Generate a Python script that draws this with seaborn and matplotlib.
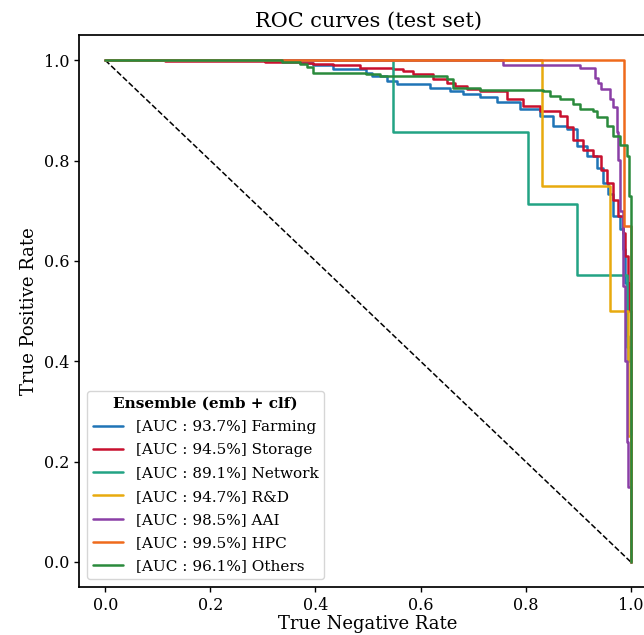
import matplotlib
matplotlib.use("Agg")
import matplotlib.pyplot as plt
import seaborn as sns

# ROC curves: x = true negative rate where each level starts,
# y = true positive rate held from that x to the next one (step "post")
farming_tnr = [0.0, 0.33, 0.37, 0.396, 0.434, 0.497, 0.507, 0.536, 0.555, 0.618, 0.656, 0.681,
               0.713, 0.745, 0.789, 0.827, 0.852, 0.878, 0.897, 0.916, 0.935, 0.947, 0.957,
               0.966, 0.979, 0.985, 0.989, 0.992, 0.995, 1.0]
farming_tpr = [1.0, 0.998, 0.995, 0.990, 0.983, 0.975, 0.969, 0.959, 0.952, 0.945, 0.939, 0.932,
               0.926, 0.916, 0.902, 0.889, 0.869, 0.862, 0.829, 0.809, 0.786, 0.756, 0.733,
               0.689, 0.663, 0.623, 0.556, 0.45, 0.40, 0.0]

storage_tnr = [0.0, 0.114, 0.304, 0.371, 0.396, 0.434, 0.485, 0.548, 0.567, 0.586, 0.624, 0.650,
               0.665, 0.688, 0.713, 0.764, 0.795, 0.827, 0.865, 0.878, 0.890, 0.909, 0.928,
               0.944, 0.954, 0.966, 0.976, 0.985, 0.990, 0.994, 0.996, 1.0]
storage_tpr = [1.0, 0.998, 0.996, 0.995, 0.992, 0.990, 0.985, 0.983, 0.979, 0.972, 0.963, 0.955,
               0.949, 0.942, 0.939, 0.922, 0.909, 0.899, 0.889, 0.866, 0.842, 0.822, 0.809,
               0.782, 0.756, 0.722, 0.689, 0.656, 0.609, 0.556, 0.50, 0.0]

network_tnr = [0.0, 0.548, 0.805, 0.897, 0.992, 1.0]
network_tpr = [1.0, 0.857, 0.714, 0.571, 0.429, 0.0]

rnd_tnr = [0.0, 0.831, 0.961, 0.995, 1.0]
rnd_tpr = [1.0, 0.75, 0.50, 0.25, 0.0]

aai_tnr = [0.0, 0.757, 0.903, 0.932, 0.938, 0.944, 0.960, 0.966, 0.973, 0.976, 0.980, 0.985,
           0.989, 0.992, 0.995, 1.0]
aai_tpr = [1.0, 0.990, 0.985, 0.965, 0.955, 0.942, 0.922, 0.906, 0.856, 0.802, 0.70, 0.55,
           0.40, 0.24, 0.15, 0.0]

hpc_tnr = [0.0, 0.987, 1.0]
hpc_tpr = [1.0, 0.669, 0.0]

others_tnr = [0.0, 0.336, 0.371, 0.383, 0.396, 0.497, 0.523, 0.650, 0.662, 0.713, 0.833, 0.846,
              0.865, 0.890, 0.903, 0.928, 0.935, 0.954, 0.966, 0.979, 0.992, 0.996, 1.0]
others_tpr = [1.0, 0.996, 0.993, 0.987, 0.975, 0.972, 0.969, 0.962, 0.945, 0.941, 0.939, 0.929,
              0.922, 0.912, 0.902, 0.899, 0.886, 0.869, 0.849, 0.832, 0.809, 0.73, 0.0]

classes = ["Farming", "Storage", "Network", "R&D", "AAI", "HPC", "Others"]
auc_pct = [93.7, 94.5, 89.1, 94.7, 98.5, 99.5, 96.1]
curves = [(farming_tnr, farming_tpr), (storage_tnr, storage_tpr), (network_tnr, network_tpr),
          (rnd_tnr, rnd_tpr), (aai_tnr, aai_tpr), (hpc_tnr, hpc_tpr), (others_tnr, others_tpr)]
colors = ["#1f74b6", "#c8102e", "#22a384", "#e8aa0e", "#8a3fa6", "#ef6a1c", "#2a8a3c"]

diag_x = [0.0, 1.0]
diag_y = [1.0, 0.0]

sns.set_theme(context="notebook", style="ticks",
              rc={"axes.edgecolor": "black", "axes.labelcolor": "black", "text.color": "black",
                  "xtick.color": "black", "ytick.color": "black",
                  "xtick.major.size": 3.5, "ytick.major.size": 3.5,
                  "xtick.major.width": 1.0, "ytick.major.width": 1.0,
                  "xtick.labelsize": 11.5, "ytick.labelsize": 11.5,
                  "axes.linewidth": 1.25})
plt.rcParams["font.family"] = ["DejaVu Serif"]

fig = plt.figure(figsize=(6.44, 6.35), dpi=100)
# right spine falls just outside the canvas, as in the cropped reference
ax = fig.add_axes([0.1227, 0.0756, 0.8975, 0.869])

sns.lineplot(x=diag_x, y=diag_y, color="black", linestyle="--", linewidth=1.1, ax=ax)
for name, auc, (tnr, tpr), col in zip(classes, auc_pct, curves, colors):
    sns.lineplot(x=tnr, y=tpr, drawstyle="steps-post", estimator=None, sort=False,
                 color=col, linewidth=1.8, label=f"[AUC : {auc}%] {name}", ax=ax)

ax.set_xlim(-0.05, 1.05)
ax.set_ylim(-0.05, 1.05)
ax.set_xlabel("True Negative Rate", fontsize=13, labelpad=1)
ax.set_ylabel("True Positive Rate", fontsize=13)
ax.set_title("ROC curves (test set)", fontsize=15)
ax.legend(loc="lower left", title="Ensemble (emb + clf)", fontsize=11, labelspacing=0.6,
          title_fontproperties={"weight": "bold", "size": 11})

fig.savefig("out.png", dpi=100)
